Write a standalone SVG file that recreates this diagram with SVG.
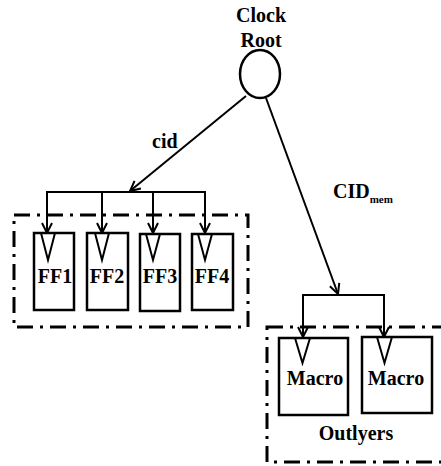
<svg xmlns="http://www.w3.org/2000/svg" width="441" height="466" viewBox="0 0 441 466">
<defs>
<style>
text{font-family:"Liberation Serif","DejaVu Serif",serif;font-weight:bold;font-size:20px;fill:#000}
.c{text-anchor:middle}
.box{fill:#fff;stroke:#000;stroke-width:2.5}
.tri{fill:none;stroke:#000;stroke-width:2;stroke-linejoin:miter}
.dash{fill:none;stroke:#000;stroke-width:3;stroke-dasharray:16 7 3 7}
.wire{fill:none;stroke:#000;stroke-width:2}
</style>
<marker id="arr" viewBox="0 0 12 12" refX="11" refY="6" markerWidth="12" markerHeight="12" markerUnits="userSpaceOnUse" orient="auto">
<path d="M1,1 L11,6 L1,11" fill="none" stroke="#000" stroke-width="2"/>
</marker>
</defs>
<rect width="441" height="466" fill="#fff"/>
<g id="groups">
<rect class="dash" x="14" y="215" width="234" height="112"/>
<rect class="dash" x="267" y="327" width="180" height="135"/>
</g>
<g id="clock-root">
<text class="c" x="261" y="22">Clock</text>
<text class="c" x="261" y="47">Root</text>
<ellipse cx="260" cy="74" rx="20" ry="24" fill="#fff" stroke="#000" stroke-width="2.5"/>
</g>
<g id="ff1">
<rect class="box" x="34" y="233" width="40" height="77"/>
<path class="tri" d="M41,233 L48,260 L55,233"/>
<text class="c" x="55" y="283">FF1</text>
</g>
<g id="ff2">
<rect class="box" x="87" y="233" width="41" height="77"/>
<path class="tri" d="M95,233 L102,260 L109,233"/>
<text class="c" x="107" y="283">FF2</text>
</g>
<g id="ff3">
<rect class="box" x="140" y="234" width="40" height="77"/>
<path class="tri" d="M146,234 L153,260 L160,234"/>
<text class="c" x="160" y="283">FF3</text>
</g>
<g id="ff4">
<rect class="box" x="192" y="234" width="41" height="76"/>
<path class="tri" d="M198,234 L205,260 L212,234"/>
<text class="c" x="212" y="283">FF4</text>
</g>
<g id="macro1">
<rect class="box" x="279" y="338" width="69" height="77"/>
<path class="tri" d="M295,338 L302.5,363 L310,338"/>
<text class="c" x="315" y="385">Macro</text>
</g>
<g id="macro2">
<rect class="box" x="362" y="337" width="70" height="76"/>
<path class="tri" d="M377,337 L384.5,363 L392,337"/>
<text class="c" x="396" y="385">Macro</text>
</g>
<g id="labels">
<text x="152" y="148">cid</text>
<text x="333" y="198" font-size="22">CID<tspan font-size="11" dy="5">mem</tspan></text>
<text class="c" x="356" y="440">Outlyers</text>
</g>
<g id="connectors">
<line class="wire" x1="246" y1="96" x2="130" y2="191" marker-end="url(#arr)"/>
<line class="wire" x1="266" y1="98" x2="338" y2="294" marker-end="url(#arr)"/>
<polyline class="wire" points="47,233 47,192 205,192 205,233" marker-end="url(#arr)"/>
<line class="wire" x1="47" y1="192" x2="47" y2="233" marker-end="url(#arr)"/>
<line class="wire" x1="102" y1="192" x2="102" y2="233" marker-end="url(#arr)"/>
<line class="wire" x1="153" y1="192" x2="153" y2="233" marker-end="url(#arr)"/>
<polyline class="wire" points="303,337 303,295 384,295 384,337" marker-end="url(#arr)"/>
<line class="wire" x1="303" y1="295" x2="303" y2="337" marker-end="url(#arr)"/>
</g>
</svg>
